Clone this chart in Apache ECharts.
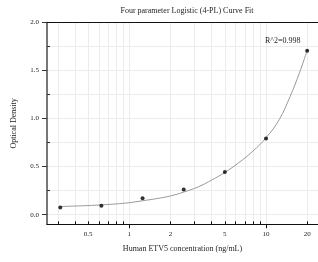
<!DOCTYPE html>
<html>
<head>
<meta charset="utf-8">
<script src="https://cdn.jsdelivr.net/npm/echarts@6/dist/echarts.min.js"></script>
<style>html,body{margin:0;padding:0;background:#fff}#c{width:318px;height:262px}</style>
</head>
<body>
<div id="c"></div>
<script>
const concentrations = [0.3125, 0.625, 1.25, 2.5, 5, 10, 20];
const opticalDensity = [0.075, 0.092, 0.172, 0.262, 0.443, 0.794, 1.706];
const curveConc = [0.3125, 0.4, 0.5, 0.625, 0.8, 1, 1.25, 1.6, 2, 2.5, 3.2, 4, 5, 6.3, 8, 10, 12.5, 15, 17.5, 20];
const curveOD = [0.085, 0.09, 0.095, 0.102, 0.112, 0.125, 0.145, 0.168, 0.195, 0.235, 0.29, 0.36, 0.44, 0.54, 0.66, 0.80, 0.99, 1.23, 1.47, 1.71];
const xTickLabels = [0.5, 1, 2, 5, 10, 20];
const xMajorTicks = [1, 10];
const xMinorTicks = [0.3, 0.4, 0.5, 0.6, 0.7, 0.8, 0.9, 2, 3, 4, 5, 6, 7, 8, 9, 20];
const xGridValues = [0.3, 0.4, 0.5, 0.6, 0.7, 0.8, 0.9, 1, 2, 3, 4, 5, 6, 7, 8, 9, 10, 20];
const yTickLabels = [0, 0.5, 1.0, 1.5, 2.0];
const yMinorTicks = [0.25, 0.75, 1.25, 1.75];
const yGridValues = [0, 0.25, 0.5, 0.75, 1.0, 1.25, 1.5, 1.75];
const rSquaredText = 'R^2=0.998';

const FONT = 'Liberation Serif';
const xMin = 0.25, xMax = 24, yMin = -0.1, yMax = 2.0;

const chart = echarts.init(document.getElementById('c'), null, {renderer: 'canvas'});
const baseX = {type: 'log', logBase: 10, min: xMin, max: xMax, position: 'bottom', gridIndex: 0};
const baseY = {type: 'value', min: yMin, max: yMax, position: 'left', gridIndex: 0};
chart.setOption({
  animation: false,
  title: [
    {text: 'Four parameter Logistic (4-PL) Curve Fit', left: 182, top: 2, textAlign: 'center', padding: 5,
     textStyle: {fontFamily: FONT, fontSize: 8, fontWeight: 'normal', color: '#222'}},
    {text: rSquaredText, left: 260, top: 32, padding: 5,
     textStyle: {fontFamily: FONT, fontSize: 8, fontWeight: 'normal', color: '#222'}}
  ],
  grid: {left: 47, right: 0, top: 22.5, bottom: 37.7, containLabel: false},
  xAxis: [
    Object.assign({}, baseX, {
      name: 'Human ETV5 concentration (ng/mL)', nameLocation: 'middle', nameGap: 21,
      nameTextStyle: {fontFamily: FONT, fontSize: 8, color: '#222'},
      axisLine: {show: true, onZero: false, lineStyle: {color: '#111', width: 1.2}},
      axisTick: {show: true, inside: false, length: 4, customValues: xMajorTicks, lineStyle: {color: '#111'}},
      axisLabel: {show: true, margin: 6, customValues: xTickLabels, fontFamily: FONT, fontSize: 7, color: '#222',
        formatter: v => String(Math.round(v * 100) / 100)},
      splitLine: {show: false}
    }),
    Object.assign({}, baseX, {
      axisLine: {show: false, onZero: false},
      axisTick: {show: true, inside: true, length: 3, customValues: xMinorTicks, lineStyle: {color: '#111'}},
      axisLabel: {show: false},
      splitLine: {show: false}
    }),
    Object.assign({}, baseX, {
      axisLine: {show: false, onZero: false},
      axisTick: {show: false, customValues: xGridValues},
      axisLabel: {show: false},
      splitLine: {show: true, lineStyle: {color: '#ececec', width: 1}}
    }),
    Object.assign({}, baseX, {
      position: 'top',
      axisLine: {show: true, onZero: false, lineStyle: {color: '#111', width: 1}},
      axisTick: {show: false}, axisLabel: {show: false}, splitLine: {show: false}
    })
  ],
  yAxis: [
    Object.assign({}, baseY, {
      name: 'Optical Density', nameLocation: 'middle', nameGap: 29,
      nameTextStyle: {fontFamily: FONT, fontSize: 8, color: '#222'},
      axisLine: {show: true, onZero: false, lineStyle: {color: '#555', width: 1.6}},
      axisTick: {show: true, inside: false, length: 5, customValues: yTickLabels, lineStyle: {color: '#333'}},
      axisLabel: {show: true, margin: 8, customValues: yTickLabels, fontFamily: FONT, fontSize: 7, color: '#222',
        formatter: v => v.toFixed(1)},
      splitLine: {show: false}
    }),
    Object.assign({}, baseY, {
      axisLine: {show: false, onZero: false},
      axisTick: {show: true, inside: true, length: 3, customValues: yMinorTicks, lineStyle: {color: '#333'}},
      axisLabel: {show: false},
      splitLine: {show: false}
    }),
    Object.assign({}, baseY, {
      axisLine: {show: false, onZero: false},
      axisTick: {show: false, customValues: yGridValues},
      axisLabel: {show: false},
      splitLine: {show: true, lineStyle: {color: '#ececec', width: 1}}
    })
  ],
  series: [
    {type: 'line', xAxisIndex: 0, yAxisIndex: 0, data: curveConc.map((c, i) => [c, curveOD[i]]),
     smooth: 0.4, showSymbol: false, symbol: 'none', lineStyle: {color: '#999', width: 1}, z: 2},
    {type: 'scatter', xAxisIndex: 0, yAxisIndex: 0, data: concentrations.map((c, i) => [c, opticalDensity[i]]),
     symbol: 'circle', symbolSize: 4, itemStyle: {color: '#000'}, z: 3}
  ]
});
</script>
</body>
</html>
